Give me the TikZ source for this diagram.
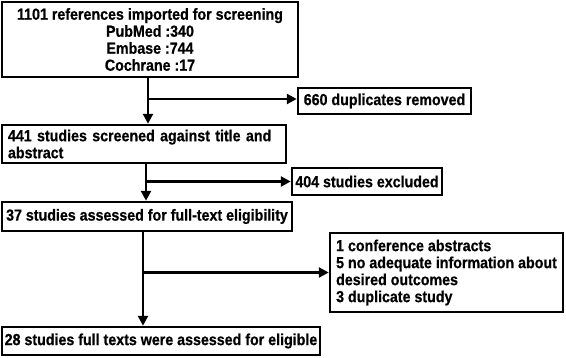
\documentclass[tikz,border=0pt]{standalone}
\usepackage{fontspec}
\setmainfont[FakeStretch=0.89,BoldFeatures={FakeBold=0.6}]{Liberation Sans}
\usetikzlibrary{arrows.meta}
\begin{document}
\begin{tikzpicture}[x=1pt,y=-1pt,
  box/.style={draw=black,line width=2.5pt,inner sep=0pt,font=\bfseries\fontsize{16}{17}\selectfont},
  arr/.style={line width=2.5pt,-{Triangle[length=10pt,width=10pt]}}]
\useasboundingbox (0,0) rectangle (566,357);
\node[box,minimum width=296pt,minimum height=75pt,align=center] (b1) at (150,39.5)
  {1101 references imported for screening\\PubMed :340\\Embase :744\\Cochrane :17};
\node[box,minimum width=173pt,minimum height=26pt] (dup) at (384.5,101) {660 duplicates removed};
\node[box,minimum width=284pt,minimum height=38pt,text width=272pt,align=left] (b2) at (144,144)
  {441 studies screened against title and\\abstract};
\node[box,minimum width=150pt,minimum height=27pt] (exc) at (367,181.5) {404 studies excluded};
\node[box,minimum width=290pt,minimum height=29pt] (b3) at (147,216.5) {37 studies assessed for full-text eligibility};
\node[box,minimum width=233pt,minimum height=79pt,align=left] (b5) at (446.5,272.5)
  {1 conference abstracts\\5 no adequate information about\\desired outcomes\\3 duplicate study};
\node[box,minimum width=318pt,minimum height=28pt] (b4) at (161,341) {28 studies full texts were assessed for eligible};
\coordinate (j1) at (148,99);
\coordinate (j2) at (146,181.5);
\coordinate (j3) at (143,272.5);
\draw[arr] (j1 |- b1.south) -- (j1 |- b2.north);
\draw[arr] (j1) -- (dup.west |- j1);
\draw[arr] (j2 |- b2.south) -- (j2 |- b3.north);
\draw[arr] (j2) -- (exc.west);
\draw[arr] (j3 |- b3.south) -- (j3 |- b4.north);
\draw[arr] (j3) -- (b5.west);
\end{tikzpicture}
\end{document}
